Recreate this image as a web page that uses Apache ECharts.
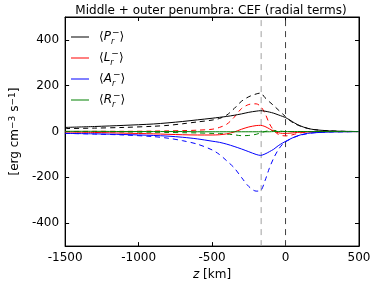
<!DOCTYPE html>
<html><head><meta charset="utf-8">
<script src="https://cdn.jsdelivr.net/npm/echarts@6/dist/echarts.min.js"></script>
<style>html,body{margin:0;padding:0;background:#fff}#c{width:374px;height:286px}</style>
</head><body><div id="c"></div>
<script>
const z = [-1500,-1300,-1100,-900,-800,-700,-600,-500,-450,-400,-350,-300,-250,-200,-170,-140,-110,-80,-50,-20,0,30,60,100,150,200,300,400,500];
const P_solid  = [18,22,27,33,38,44,51,58,62,66,71,77,84,89,91,89,85,80,73,66,61,50,38,25,14,8,3,1,0];
const P_dashed = [13,15,18,23,27,34,42,50,57,72,100,132,152,164,168,148,130,113,95,77,65,48,35,24,14,8,3,1,0];
const L_solid  = [-2,-4,-7,-10,-12,-14,-15,-15,-14,-10,-2,10,20,26,27,22,12,2,-5,-8,-8,-7,-5,-3,-2,-1,0,0,0];
const L_dashed = [0,1,1,2,3,4,6,10,18,32,62,100,118,121,110,80,35,5,-12,-18,-19,-17,-12,-6,-2,-1,0,0,0];
const A_solid  = [-8,-10,-13,-17,-20,-25,-32,-42,-47,-55,-65,-76,-88,-100,-104,-98,-88,-77,-62,-50,-43,-33,-24,-15,-8,-5,-2,-1,0];
const A_dashed = [-8,-11,-15,-22,-29,-40,-55,-80,-100,-128,-158,-200,-240,-260,-258,-215,-160,-115,-80,-55,-45,-34,-25,-16,-9,-5,-2,-1,0];
const R_solid  = [1,1,0,0,0,0,-1,-1,-1,-1,-1,-1,-1,-1,-1,-1,-1,0,0,0,0,0,0,0,0,0,0,0,0];
const R_dashed = [0,-1,-2,-3,-4,-5,-6,-8,-9,-11,-14,-18,-17,-12,-6,0,4,5,3,1,0,0,0,0,0,0,0,0,0];
const vlines = [-166, 0];
const xTicks = [-1500,-1000,-500,0,500];
const yTicks = [-400,-200,0,200,400];
const title = 'Middle + outer penumbra: CEF (radial terms)';

const pair = (ys) => z.map((x,i)=>[x, ys[i]]);
const chart = echarts.init(document.getElementById('c'));
const FF = 'DejaVu Sans';
function line(name, ys, color, dashed, z2){
  return {name, type:'line', data:pair(ys), symbol:'none', smooth:0.3, z:z2||2,
    lineStyle:{color, width:1, type: dashed ? [5,4] : 'solid'}, itemStyle:{color}, emphasis:{disabled:true}, silent:true};
}
const tickStyle = (vals) => ({show:true, inside:true, length:4, lineStyle:{color:'#000'}, customValues:vals});
const axisLine = {show:true, onZero:false, lineStyle:{color:'#000', width:1}};
const fmt = (v) => String(v);
const option = {
  animation:false,
  title:{text:title, left:206, textAlign:'center', top:0, textStyle:{fontFamily:FF, fontSize:12, fontWeight:'normal', color:'#000'}},
  grid:{left:54, right:15, top:17, bottom:34, show:true, borderColor:'#000', borderWidth:1},
  legend:{
    orient:'vertical', left:66, top:23, itemWidth:18, itemHeight:1, itemGap:3, icon:'rect',
    data:['P','L','A','R'],
    formatter:(n)=>'{a|⟨}{i|'+n+'}{sb|r}{sp|−}{a|⟩}',
    textStyle:{fontFamily:FF, fontSize:12, color:'#000', padding:[0,0,0,5],
      rich:{
        a:{fontFamily:FF, fontSize:12, lineHeight:18},
        i:{fontFamily:FF, fontSize:12, fontStyle:'italic', lineHeight:18},
        sb:{fontFamily:FF, fontSize:8, fontStyle:'italic', verticalAlign:'bottom', lineHeight:18, padding:[6,0,0,0], width:1},
        sp:{fontFamily:FF, fontSize:9, verticalAlign:'top', lineHeight:18, padding:[0,0,6,0]}
      }}
  },
  xAxis:[
    {type:'value', min:-1500, max:500, interval:500, position:'bottom',
      name:'{i|z} [km]', nameLocation:'middle', nameGap:20,
      nameTextStyle:{fontFamily:FF, fontSize:12, color:'#000', rich:{i:{fontFamily:FF, fontStyle:'italic', fontSize:12}}},
      axisLine, splitLine:{show:false}, axisTick:tickStyle(xTicks),
      axisLabel:{fontFamily:FF, fontSize:12, color:'#000', margin:6, formatter:fmt, customValues:xTicks}},
    {type:'value', min:-1500, max:500, interval:500, position:'top', axisLabel:{show:false},
      axisLine, splitLine:{show:false}, axisTick:tickStyle(xTicks)}
  ],
  yAxis:[
    {type:'value', min:-500, max:500, position:'left',
      name:'[erg cm{s|−3} s{s|−1}]', nameLocation:'middle', nameGap:37,
      nameTextStyle:{fontFamily:FF, fontSize:12, color:'#000', rich:{s:{fontFamily:FF, fontSize:9, verticalAlign:'top', padding:[0,0,5,0]}}},
      axisLine, splitLine:{show:false}, axisTick:tickStyle(yTicks),
      axisLabel:{fontFamily:FF, fontSize:12, color:'#000', margin:6, formatter:fmt, customValues:yTicks}},
    {type:'value', min:-500, max:500, position:'right', axisLabel:{show:false},
      axisLine, splitLine:{show:false}, axisTick:tickStyle(yTicks)}
  ],
  series:[
    {name:'vl0', type:'line', data:[[vlines[0],-500],[vlines[0],500]], symbol:'none', silent:true, lineStyle:{color:'#a0a0a0', width:1, type:[6,5]}, z:1},
    {name:'vl1', type:'line', data:[[vlines[1],-500],[vlines[1],500]], symbol:'none', silent:true, lineStyle:{color:'#404040', width:1, type:[6,5]}, z:1},
    line('P', P_solid, '#000000', false, 3),
    line('Pd', P_dashed, '#000000', true),
    line('L', L_solid, '#ff0000', false, 3),
    line('Ld', L_dashed, '#ff0000', true),
    line('A', A_solid, '#0000ff', false, 3),
    line('Ad', A_dashed, '#0000ff', true),
    line('R', R_solid, '#008000', false, 3),
    line('Rd', R_dashed, '#008000', true),
  ]
};
chart.setOption(option);
</script></body></html>
